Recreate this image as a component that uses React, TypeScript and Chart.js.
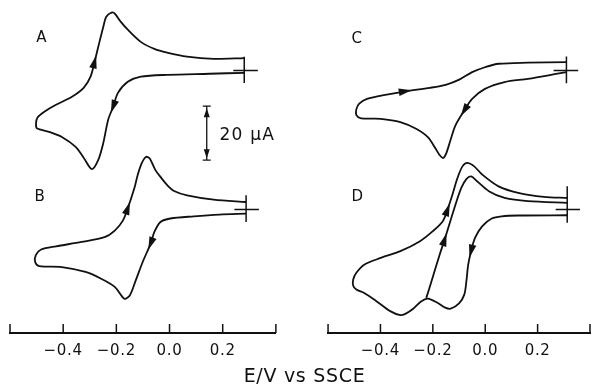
import { useEffect, useRef } from 'react';
import { Chart, registerables } from 'chart.js';

Chart.register(...registerables);

const FONT = '"DejaVu Sans", sans-serif';
const INK = '#111';

// ---- axis ----
const TICK_VALUES = [-0.6, -0.4, -0.2, 0, 0.2, 0.4];
const TICK_LABELS = ['', '−0.4', '−0.2', '0.0', '0.2', ''];
const AXIS_TITLE = 'E/V vs SSCE';

// current offsets of the two rows of voltammograms (µA) and y range
const ROW_TOP = 97.2;
const ROW_BOTTOM = 45.7;
const Y_MAX = 123.3;

// ---- panel A (E in V, i in µA), scan order ----
const A_E = [0.281, 0.151, -0.009, -0.108, -0.157, -0.194, -0.212, -0.231, -0.249, -0.268, -0.292, -0.323, -0.353, -0.405, -0.453, -0.499, -0.502, -0.497, -0.471, -0.427, -0.367, -0.323, -0.297, -0.282, -0.268, -0.249, -0.238, -0.216, -0.205, -0.183, -0.157, -0.108, -0.057, -0.009, 0.066, 0.166, 0.281];
const A_I = [-0.85, -1.2, -1.6, -2.3, -4.2, -8.3, -13.4, -18.3, -26.8, -33.1, -36.5, -32.3, -28.3, -24.6, -22.7, -21.4, -19.5, -17.5, -15.3, -12.7, -9.7, -6.4, -2.3, 3.2, 8.8, 16.2, 19.9, 21.5, 21.0, 18.0, 15.1, 10.6, 8.0, 6.6, 5.1, 4.3, 4.6];
const A_ARROWS = [6, 23];
const A_MARK_E = [0.281, 0.281, null, 0.24, 0.332];
const A_MARK_I = [5.1, -4.6, null, 0, 0];

// ---- panel B ----
const B_E = [0.288, 0.188, 0.091, 0.003, -0.034, -0.057, -0.071, -0.101, -0.127, -0.149, -0.17, -0.205, -0.257, -0.316, -0.405, -0.49, -0.505, -0.503, -0.483, -0.427, -0.331, -0.242, -0.205, -0.175, -0.157, -0.131, -0.12, -0.105, -0.089, -0.075, -0.053, -0.034, -0.008, 0.017, 0.066, 0.166, 0.288];
const B_I = [-1.5, -1.85, -2.5, -3.3, -4.6, -8.3, -12.6, -19.4, -26.2, -31.7, -33.0, -28.7, -25.6, -23.1, -21.3, -20.9, -19.5, -16.9, -14.8, -13.6, -12.0, -10.1, -7.7, -4.0, 0.5, 8.4, 12.7, 17.1, 19.5, 19.0, 14.6, 12.1, 9.0, 6.9, 5.3, 3.7, 2.8];
const B_ARROWS = [6, 24];
const B_MARK_E = [0.288, 0.288, null, 0.244, 0.336];
const B_MARK_I = [5.3, -4.6, null, 0, 0];

// ---- panel C ----
const C_E = [0.31, 0.276, 0.163, 0.074, -0.001, -0.05, -0.08, -0.114, -0.133, -0.15, -0.161, -0.175, -0.189, -0.219, -0.264, -0.324, -0.399, -0.474, -0.492, -0.492, -0.481, -0.451, -0.376, -0.305, -0.211, -0.151, -0.099, -0.05, -0.001, 0.051, 0.163, 0.31];
const C_I = [-0.6, -1.2, -3.1, -4.3, -6.8, -10.5, -14.8, -20.4, -25.9, -31.0, -32.4, -31.2, -29.0, -24.7, -21.6, -19.1, -17.9, -17.7, -16.5, -14.3, -12.3, -10.5, -8.9, -7.7, -6.4, -5.3, -3.4, -0.6, 1.2, 2.5, 2.9, 3.1];
const C_ARROWS = [6, 23];
const C_MARK_E = [0.31, 0.31, null, 0.261, 0.355];
const C_MARK_I = [5.2, -4.7, null, 0, 0];

// ---- panel D, first (full) cycle ----
const D1_E = [0.313, 0.126, 0.063, 0.025, -0.012, -0.039, -0.054, -0.065, -0.072, -0.08, -0.099, -0.132, -0.155, -0.181, -0.219, -0.245, -0.275, -0.305, -0.324, -0.361, -0.414, -0.462, -0.492, -0.504, -0.504, -0.492, -0.462, -0.399, -0.324, -0.249, -0.2, -0.162, -0.144, -0.125, -0.106, -0.087, -0.069, -0.042, -0.012, 0.051, 0.126, 0.224, 0.313];
const D1_I = [-2.1, -2.2, -2.5, -3.3, -6.2, -10.5, -15.4, -20.4, -26.6, -31.5, -34.6, -36.7, -36.2, -34.6, -33.0, -34.0, -36.7, -38.6, -39.1, -37.7, -34.0, -30.9, -29.6, -28.2, -25.9, -23.4, -20.4, -17.9, -15.4, -11.7, -8.0, -4.3, 0, 5.6, 11.7, 16.0, 17.3, 16.0, 13.0, 8.6, 6.2, 4.7, 4.3];
const D1_ARROWS = [6, 32];
// ---- panel D, second cycle (reversed at -0.22 V) ----
const D2_E = [-0.225, -0.21, -0.174, -0.155, -0.114, -0.091, -0.072, -0.054, -0.031, 0.014, 0.074, 0.163, 0.314];
const D2_I = [-32.7, -28.1, -16.7, -11.1, 1.7, 8.1, 11.3, 12.3, 10.5, 6.8, 4.3, 3.1, 2.5];
const D2_ARROWS = [3];
const D_MARK_E = [0.313, 0.313, null, 0.269, 0.362];
const D_MARK_I = [8.6, -4.9, null, 0, 0];

// ---- panel letters and current scale ----
const PANEL_LABELS = ['A', 'B', 'C', 'D'];
const SCALE_BAR_UA = 20;
const SCALE_BAR_TEXT = '20 μA';

function pts(E: (number | null)[], I: (number | null)[], off: number) {
  return E.map((e, k) => ({ x: e, y: I[k] === null ? null : (I[k] as number) + off }));
}

const curve = { borderColor: INK, borderWidth: 1.8, pointRadius: 0, tension: 0.3, fill: false };
const mark = { borderColor: INK, borderWidth: 1.5, pointRadius: 0, tension: 0, fill: false, spanGaps: false };

const ARROW_SPEC: Record<string, number[]> = { A: A_ARROWS, B: B_ARROWS, C: C_ARROWS, D1: D1_ARROWS, D2: D2_ARROWS };

// positions of annotations in data coordinates [axis, E, current]
const LABEL_POS: [string, number, number][] = [
  ['xL', -0.501, 109.3],
  ['xL', -0.508, 50.2],
  ['xR', -0.511, 108.9],
  ['xR', -0.511, 50.2],
];
const SCALE_BAR_POS = { e: 0.14, mid: 74 };
const SCALE_TEXT_POS = { e: 0.188, i: 73 };

const annotPlugin = {
  id: 'annot',
  beforeDraw(chart: any) {
    chart.ctx.letterSpacing = '0.7px';
  },
  afterDatasetsDraw(chart: any) {
    const { ctx, scales } = chart;
    const y = scales.y;
    ctx.save();
    ctx.fillStyle = INK;
    ctx.strokeStyle = INK;

    // arrowheads on the curves
    chart.data.datasets.forEach((ds: any, di: number) => {
      const idxs = ARROW_SPEC[ds.label];
      if (!idxs) return;
      const els = chart.getDatasetMeta(di).data;
      idxs.forEach((k) => {
        const p0 = els[k - 1], p1 = els[k], p2 = els[k + 1];
        const a = Math.atan2(p2.y - p0.y, p2.x - p0.x);
        const L = 6.5, W = 3.8;
        const cx = p1.x, cy = p1.y;
        const dx = Math.cos(a), dy = Math.sin(a);
        ctx.beginPath();
        ctx.moveTo(cx + dx * L, cy + dy * L);
        ctx.lineTo(cx - dx * L - dy * W, cy - dy * L + dx * W);
        ctx.lineTo(cx - dx * L + dy * W, cy - dy * L - dx * W);
        ctx.closePath();
        ctx.fill();
      });
    });

    // inward tick marks
    ctx.lineWidth = 1.5;
    ['xL', 'xR'].forEach((id) => {
      const s = scales[id];
      s.ticks.forEach((t: any) => {
        const px = s.getPixelForValue(t.value);
        ctx.beginPath();
        ctx.moveTo(px, s.top);
        ctx.lineTo(px, s.top - 9);
        ctx.stroke();
      });
    });

    // panel letters
    ctx.font = `15px ${FONT}`;
    ctx.textBaseline = 'middle';
    ctx.textAlign = 'left';
    PANEL_LABELS.forEach((lab, k) => {
      const [ax, e, i] = LABEL_POS[k];
      ctx.fillText(lab, scales[ax].getPixelForValue(e), y.getPixelForValue(i));
    });

    // current scale bar
    const bx = scales.xL.getPixelForValue(SCALE_BAR_POS.e);
    const yt = y.getPixelForValue(SCALE_BAR_POS.mid + SCALE_BAR_UA / 2);
    const yb = y.getPixelForValue(SCALE_BAR_POS.mid - SCALE_BAR_UA / 2);
    ctx.lineWidth = 1.3;
    ctx.beginPath();
    ctx.moveTo(bx, yt); ctx.lineTo(bx, yb);
    ctx.moveTo(bx - 4, yt); ctx.lineTo(bx + 4, yt);
    ctx.moveTo(bx - 4, yb); ctx.lineTo(bx + 4, yb);
    ctx.stroke();
    ctx.beginPath();
    ctx.moveTo(bx, yt + 2); ctx.lineTo(bx - 3, yt + 11); ctx.lineTo(bx + 3, yt + 11); ctx.closePath();
    ctx.moveTo(bx, yb - 2); ctx.lineTo(bx - 3, yb - 11); ctx.lineTo(bx + 3, yb - 11); ctx.closePath();
    ctx.fill();
    ctx.font = `17px ${FONT}`;
    ctx.letterSpacing = '1.2px';
    ctx.fillText(SCALE_BAR_TEXT, scales.xL.getPixelForValue(SCALE_TEXT_POS.e), y.getPixelForValue(SCALE_TEXT_POS.i));
    ctx.restore();
  },
  afterDraw(chart: any) {
    chart.ctx.letterSpacing = '0px';
  },
};

function xAxis(weight: number) {
  return {
    type: 'linear' as const,
    position: 'bottom' as const,
    stack: 'cols',
    stackWeight: weight,
    min: -0.6,
    max: 0.4,
    afterBuildTicks: (s: any) => {
      s.ticks = TICK_VALUES.map((v) => ({ value: v }));
    },
    afterFit: (s: any) => {
      s.height = 30;
    },
    ticks: {
      autoSkip: false,
      maxRotation: 0,
      padding: 9,
      color: INK,
      font: { family: FONT, size: 15, lineHeight: 1.2 },
      callback: (_v: any, idx: number) => TICK_LABELS[idx],
    },
    grid: { display: false, drawTicks: false },
    border: { display: true, color: INK, width: 2 },
  };
}

export default function App() {
  const ref = useRef<HTMLCanvasElement>(null);
  useEffect(() => {
    const chart = new Chart(ref.current as HTMLCanvasElement, {
      type: 'line',
      data: {
        datasets: [
          { label: 'A', xAxisID: 'xL', yAxisID: 'y', data: pts(A_E, A_I, ROW_TOP), ...curve },
          { label: 'A start', xAxisID: 'xL', yAxisID: 'y', data: pts(A_MARK_E, A_MARK_I, ROW_TOP), ...mark },
          { label: 'B', xAxisID: 'xL', yAxisID: 'y', data: pts(B_E, B_I, ROW_BOTTOM), ...curve },
          { label: 'B start', xAxisID: 'xL', yAxisID: 'y', data: pts(B_MARK_E, B_MARK_I, ROW_BOTTOM), ...mark },
          { label: 'C', xAxisID: 'xR', yAxisID: 'y', data: pts(C_E, C_I, ROW_TOP), ...curve },
          { label: 'C start', xAxisID: 'xR', yAxisID: 'y', data: pts(C_MARK_E, C_MARK_I, ROW_TOP), ...mark },
          { label: 'D1', xAxisID: 'xR', yAxisID: 'y', data: pts(D1_E, D1_I, ROW_BOTTOM), ...curve },
          { label: 'D2', xAxisID: 'xR', yAxisID: 'y', data: pts(D2_E, D2_I, ROW_BOTTOM), ...curve },
          { label: 'D start', xAxisID: 'xR', yAxisID: 'y', data: pts(D_MARK_E, D_MARK_I, ROW_BOTTOM), ...mark },
        ] as any,
      },
      options: {
        animation: false,
        responsive: false,
        devicePixelRatio: 1,
        layout: { padding: { left: 10, right: 0, top: 0, bottom: 0 } },
        plugins: {
          legend: { display: false },
          tooltip: { enabled: false },
          title: {
            display: true,
            text: AXIS_TITLE,
            position: 'bottom',
            align: 'center',
            color: INK,
            font: { family: FONT, size: 19, weight: 'normal', lineHeight: 1 },
            padding: { top: 5, bottom: 0 },
          },
        },
        scales: {
          xL: xAxis(270),
          xGap: {
            type: 'linear',
            position: 'bottom',
            stack: 'cols',
            stackWeight: 53,
            min: 0,
            max: 1,
            afterFit: (s: any) => {
              s.height = 30;
            },
            ticks: { display: false },
            grid: { display: false, drawTicks: false },
            border: { display: false },
          },
          xR: xAxis(266),
          y: { type: 'linear', display: false, min: 0, max: Y_MAX },
        } as any,
      },
      plugins: [annotPlugin],
    });
    return () => chart.destroy();
  }, []);
  return (
    <div style={{ position: 'absolute', left: 0, top: 0, width: 599, height: 387, background: '#fff' }}>
      <canvas ref={ref} width={599} height={387} style={{ display: 'block', width: 599, height: 387 }} />
    </div>
  );
}
